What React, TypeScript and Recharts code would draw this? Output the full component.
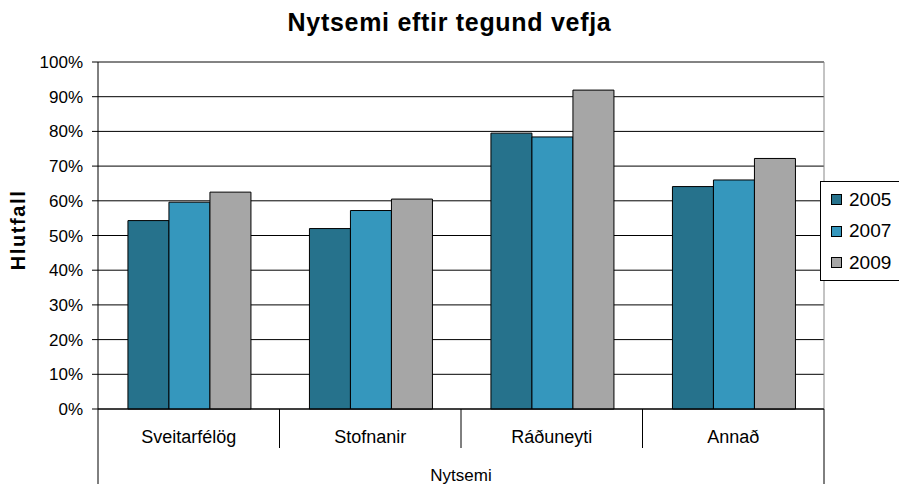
import React from 'react';
import { BarChart, Bar, XAxis, YAxis, CartesianGrid, ReferenceLine } from 'recharts';

const categories = ['Sveitarfélög', 'Stofnanir', 'Ráðuneyti', 'Annað'];
const values2005 = [54.3, 52, 79.5, 64.1];
const values2007 = [59.6, 57.2, 78.4, 66];
const values2009 = [62.5, 60.5, 91.9, 72.2];
const yTicks = [0, 10, 20, 30, 40, 50, 60, 70, 80, 90, 100];

const SERIES = [
  { key: 'y2005', name: '2005', color: '#26728c' },
  { key: 'y2007', name: '2007', color: '#3597bd' },
  { key: 'y2009', name: '2009', color: '#a6a6a6' },
];

const data = categories.map((name, i) => ({
  name,
  y2005: values2005[i],
  y2007: values2007[i],
  y2009: values2009[i],
}));

const FONT = '"Liberation Sans", Arial, sans-serif';
const W = 899;
const H = 484;
const PLOT_LEFT = 98;
const PLOT_RIGHT = 824;
const PLOT_TOP = 62;
const PLOT_BOTTOM = 409;
const BAND = (PLOT_RIGHT - PLOT_LEFT) / categories.length;

// category tick with the separator lines Excel draws under the axis
const CategoryTick = (props: any) => {
  const { x, payload, index } = props;
  const left = x - BAND / 2;
  const right = x + BAND / 2;
  const last = index === categories.length - 1;
  return (
    <g>
      <line x1={left} y1={PLOT_BOTTOM} x2={left} y2={index === 0 ? H : 448} stroke="#000" />
      {last && <line x1={right} y1={PLOT_BOTTOM} x2={right} y2={H} stroke="#000" />}
      <text x={x} y={PLOT_BOTTOM + 34} textAnchor="middle" fontSize={18} fontFamily={FONT} fill="#000">
        {payload.value}
      </text>
    </g>
  );
};

const LegendBox = () => (
  <div
    style={{
      position: 'absolute',
      left: 820,
      top: 181,
      width: 80,
      height: 100,
      border: '1px solid #000',
      background: '#fff',
      padding: '2px 0 0 10px',
      boxSizing: 'border-box',
      fontFamily: FONT,
      fontSize: 19,
    }}
  >
    {SERIES.map((s) => (
      <div key={s.key} style={{ display: 'flex', alignItems: 'center', height: 31.5 }}>
        <span
          style={{
            display: 'inline-block',
            width: 9,
            height: 9,
            background: s.color,
            border: '1px solid #000',
            marginRight: 7,
          }}
        />
        <span>{s.name}</span>
      </div>
    ))}
  </div>
);

export default function App() {
  return (
    <div style={{ position: 'absolute', left: 0, top: 0, width: W, height: H, background: '#fff', overflow: 'hidden' }}>
      <div
        style={{
          position: 'absolute',
          top: 10,
          left: 0,
          width: W,
          textAlign: 'center',
          fontFamily: FONT,
          fontWeight: 'bold',
          fontSize: 25,
          lineHeight: '25px',
          letterSpacing: 0.7,
        }}
      >
        Nytsemi eftir tegund vefja
      </div>
      <BarChart
        width={W}
        height={H}
        data={data}
        margin={{ top: PLOT_TOP, right: W - PLOT_RIGHT, bottom: 0, left: 0 }}
        barGap={0}
        barCategoryGap="16.5%"
      >
        <CartesianGrid vertical={false} stroke="#000" />
        <CartesianGrid
          horizontal={false}
          stroke="#888"
          verticalCoordinatesGenerator={({ offset }: any) => [offset.left + offset.width]}
        />
        <ReferenceLine y={100} stroke="#888" />
        <XAxis
          dataKey="name"
          height={H - PLOT_BOTTOM}
          axisLine={{ stroke: '#000' }}
          tickLine={false}
          tick={<CategoryTick />}
          interval={0}
          label={{
            content: () => (
              <text x={(PLOT_LEFT + PLOT_RIGHT) / 2} y={481} textAnchor="middle" fontSize={17} fontFamily={FONT} fill="#000">
                Nytsemi
              </text>
            ),
          }}
        />
        <YAxis
          width={PLOT_LEFT}
          domain={[0, 100]}
          ticks={yTicks}
          interval={0}
          tickFormatter={(v: number) => `${v}%`}
          axisLine={{ stroke: '#000' }}
          tickLine={{ stroke: '#000' }}
          tickSize={6}
          tickMargin={9}
          tick={{ fontSize: 17, fontFamily: FONT, fill: '#000' }}
          label={{
            content: () => (
              <text
                x={25}
                y={230}
                transform="rotate(-90 25 230)"
                textAnchor="middle"
                fontSize={20}
                fontWeight="bold"
                letterSpacing={1.6}
                fontFamily={FONT}
                fill="#000"
              >
                Hlutfall
              </text>
            ),
          }}
        />
        {SERIES.map((s) => (
          <Bar
            key={s.key}
            dataKey={s.key}
            name={s.name}
            fill={s.color}
            stroke="#000"
            strokeWidth={1}
            isAnimationActive={false}
          />
        ))}
      </BarChart>
      <LegendBox />
    </div>
  );
}
